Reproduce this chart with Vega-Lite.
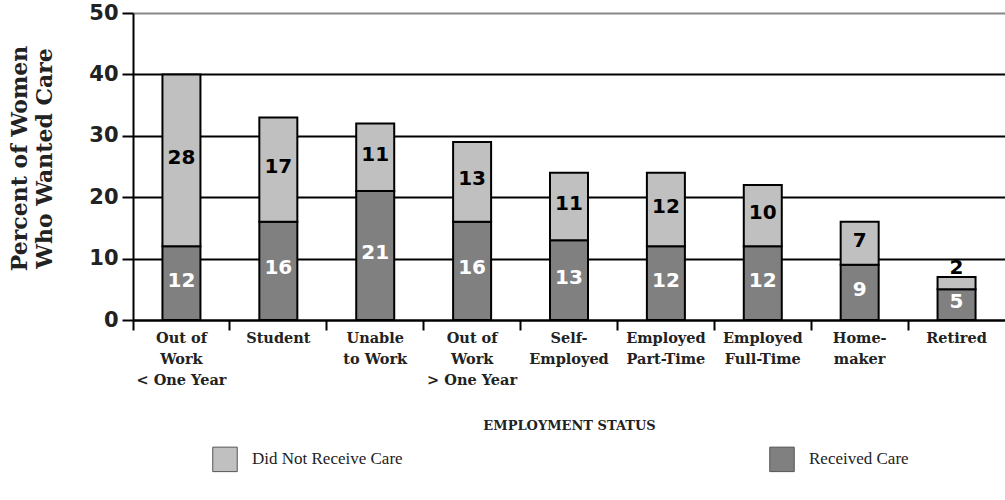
{
  "$schema": "https://vega.github.io/schema/vega-lite/v6.json",
  "autosize": {"type": "none"},
  "padding": {"left": 133, "top": 13, "right": 0, "bottom": 180},
  "width": 872,
  "height": 307,
  "background": "white",
  "config": {"view": {"stroke": null}},
  "data": {"values": [
    {"status": "Out of|Work|< One Year", "care": "Received Care", "value": 12},
    {"status": "Out of|Work|< One Year", "care": "Did Not Receive Care", "value": 28},
    {"status": "Student", "care": "Received Care", "value": 16},
    {"status": "Student", "care": "Did Not Receive Care", "value": 17},
    {"status": "Unable|to Work", "care": "Received Care", "value": 21},
    {"status": "Unable|to Work", "care": "Did Not Receive Care", "value": 11},
    {"status": "Out of|Work|> One Year", "care": "Received Care", "value": 16},
    {"status": "Out of|Work|> One Year", "care": "Did Not Receive Care", "value": 13},
    {"status": "Self-|Employed", "care": "Received Care", "value": 13},
    {"status": "Self-|Employed", "care": "Did Not Receive Care", "value": 11},
    {"status": "Employed|Part-Time", "care": "Received Care", "value": 12},
    {"status": "Employed|Part-Time", "care": "Did Not Receive Care", "value": 12},
    {"status": "Employed|Full-Time", "care": "Received Care", "value": 12},
    {"status": "Employed|Full-Time", "care": "Did Not Receive Care", "value": 10},
    {"status": "Home-|maker", "care": "Received Care", "value": 9},
    {"status": "Home-|maker", "care": "Did Not Receive Care", "value": 7},
    {"status": "Retired", "care": "Received Care", "value": 5},
    {"status": "Retired", "care": "Did Not Receive Care", "value": 2}
  ]},
  "transform": [
    {"stack": "value", "groupby": ["status"], "sort": [{"field": "care", "order": "descending"}], "as": ["v0", "v1"]},
    {"calculate": "datum.value < 4 ? datum.v1 + 1.4 : (datum.v0 + datum.v1) / 2 + 0.4", "as": "mid"}
  ],
  "encoding": {
    "x": {
      "field": "status", "type": "nominal", "sort": null,
      "scale": {"paddingInner": 0, "paddingOuter": 0},
      "axis": {
        "title": "EMPLOYMENT STATUS",
        "titleFont": "DejaVu Serif", "titleFontSize": 13, "titleFontWeight": "bold", "titleColor": "#222",
        "titleY": 105, "titleBaseline": "middle",
        "labelExpr": "split(datum.value, '|')",
        "labelFont": "DejaVu Serif", "labelFontSize": 14.5, "labelFontWeight": "bold", "labelColor": "#222",
        "labelLineHeight": 21, "labelAngle": 0, "labelPadding": 1,
        "bandPosition": 0,
        "ticks": true, "tickSize": 10, "tickWidth": 2, "tickColor": "black",
        "domainColor": "black", "domainWidth": 2,
        "grid": false
      }
    }
  },
  "layer": [
    {
      "mark": {"type": "bar", "size": 38, "stroke": "black", "strokeWidth": 2},
      "encoding": {
        "y": {
          "field": "v1", "type": "quantitative",
          "scale": {"domain": [0, 50]},
          "axis": {
            "values": [0, 10, 20, 30, 40, 50],
            "title": ["Percent of Women", "Who Wanted Care"],
            "titleFont": "DejaVu Serif", "titleFontSize": 22, "titleFontWeight": "bold", "titleColor": "#222",
            "titleX": -124, "titleY": 145, "titleBaseline": "top", "titleLineHeight": 25,
            "labelFont": "DejaVu Sans", "labelFontSize": 21, "labelFontWeight": "bold", "labelColor": "#222",
            "labelPadding": 4,
            "tickSize": 11, "tickWidth": 2, "tickColor": "black",
            "domainColor": "black", "domainWidth": 2,
            "grid": true, "gridWidth": 2,
            "gridColor": {"condition": {"test": "datum.value === 50", "value": "#888888"}, "value": "black"}
          }
        },
        "y2": {"field": "v0"},
        "color": {
          "field": "care", "type": "nominal",
          "scale": {"domain": ["Did Not Receive Care", "Received Care"], "range": ["#c0c0c0", "#808080"]},
          "legend": {
            "title": null, "orient": "none", "legendX": 79, "legendY": 433,
            "direction": "horizontal", "columns": 2, "columnPadding": 364,
            "symbolType": "square", "symbolSize": 600, "symbolStrokeColor": "#555", "symbolStrokeWidth": 1,
            "symbolOffset": 0, "labelOffset": 14,
            "labelFont": "Liberation Serif", "labelFontSize": 17, "labelColor": "#222"
          }
        }
      }
    },
    {
      "mark": {"type": "text", "font": "DejaVu Sans", "fontSize": 20, "fontWeight": "bold", "baseline": "middle"},
      "encoding": {
        "y": {"field": "mid", "type": "quantitative"},
        "text": {"field": "value", "type": "quantitative"},
        "color": {
          "condition": {"test": "datum.care === 'Received Care'", "value": "white"},
          "value": "black"
        }
      }
    }
  ]
}
